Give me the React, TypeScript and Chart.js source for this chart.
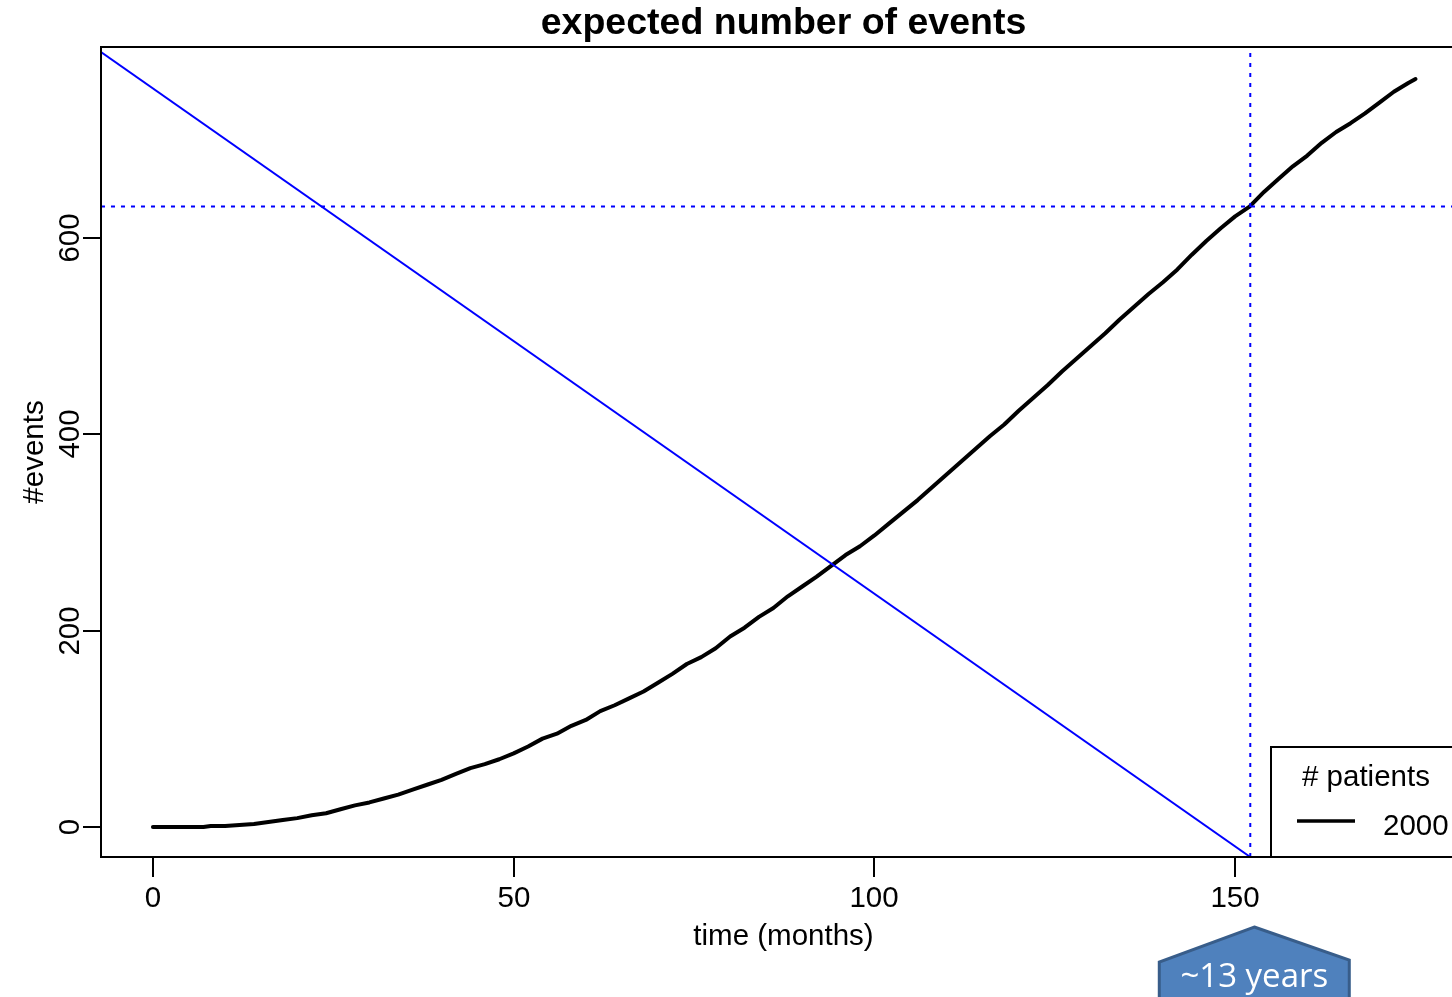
import React, { useEffect, useRef } from "react";
import { Chart, registerables } from "chart.js";

Chart.register(...registerables);

// ---- data ----
const months = [
  0, 2, 4, 6, 7, 8, 10, 12, 14, 16, 18, 20, 22, 24, 26, 28, 30, 32, 34, 36, 38, 40,
  42, 44, 46, 48, 50, 52, 54, 56, 58, 60, 62, 64, 66, 68, 70, 72, 74, 76, 78, 80,
  82, 84, 86, 88, 90, 92, 94, 96, 98, 100, 102, 104, 106, 108, 110, 112, 114, 116,
  118, 120, 122, 124, 126, 128, 130, 132, 134, 136, 138, 140, 142, 144, 146, 148,
  150, 152, 154, 156, 158, 160, 162, 164, 166, 168, 170, 172, 174, 175,
];
const events = [
  0, 0, 0, 0, 0, 1, 1, 2, 3, 5, 7, 9, 12, 14, 18, 22, 25, 29, 33, 38, 43, 48,
  54, 60, 64, 69, 75, 82, 90, 95, 103, 109, 118, 124, 131, 138, 147, 156, 166, 173, 182, 194,
  203, 214, 223, 235, 245, 255, 266, 277, 286, 297, 309, 321, 333, 346, 359, 372, 385, 398,
  410, 424, 437, 450, 464, 477, 490, 503, 517, 530, 543, 555, 568, 583, 597, 610,
  622, 632, 647, 660, 673, 684, 697, 708, 717, 727, 738, 749, 758, 762,
];
const xTicks = [0, 50, 100, 150];
const yTicks = [0, 200, 400, 600];
const xRange = [-7.2, 182];
const yRange = [-30.6, 794.6];
const diagX = [-7.2, 152.1];
const diagY = [789.5, -30.6];
const cutoffMonths = 152.1;
const cutoffEvents = 632;

const titleText = "expected number of events";
const xTitle = "time (months)";
const yTitle = "#events";
const legendTitle = "# patients";
const seriesLabel = "2000";
const calloutText = "~13 years";

const FONT = "'Liberation Sans', Arial, Helvetica, sans-serif";

const decorPlugin = {
  id: "decor",
  afterDraw(chart: any) {
    const ctx = chart.ctx as CanvasRenderingContext2D;
    const a = chart.chartArea;
    const xs = chart.scales.x;
    const ys = chart.scales.y;
    ctx.save();

    // legend box (bottom right)
    const lx = 1271;
    const ly = 747;
    ctx.fillStyle = "#ffffff";
    ctx.fillRect(lx, ly, a.right - lx, a.bottom - ly);
    ctx.strokeStyle = "#000";
    ctx.lineWidth = 2;
    ctx.strokeRect(lx, ly, a.right - lx, a.bottom - ly);
    ctx.fillStyle = "#000";
    ctx.font = `29.5px ${FONT}`;
    ctx.textAlign = "left";
    ctx.textBaseline = "alphabetic";
    ctx.fillText(legendTitle, 1302, 786);
    ctx.fillText(seriesLabel, 1383, 835);
    ctx.lineWidth = 3.5;
    ctx.beginPath();
    ctx.moveTo(1297, 821);
    ctx.lineTo(1355, 821);
    ctx.stroke();

    // frame
    ctx.lineWidth = 2;
    ctx.strokeStyle = "#000";
    ctx.strokeRect(a.left, a.top, a.right - a.left, a.bottom - a.top);

    // x ticks
    ctx.font = `29.5px ${FONT}`;
    ctx.fillStyle = "#000";
    ctx.lineWidth = 2;
    ctx.textAlign = "center";
    for (const v of xTicks) {
      const px = Math.round(xs.getPixelForValue(v));
      ctx.beginPath();
      ctx.moveTo(px, a.bottom);
      ctx.lineTo(px, a.bottom + 20);
      ctx.stroke();
      ctx.fillText(String(v), px, 907);
    }
    // y ticks
    for (const v of yTicks) {
      const py = Math.round(ys.getPixelForValue(v));
      ctx.beginPath();
      ctx.moveTo(a.left - 18, py);
      ctx.lineTo(a.left, py);
      ctx.stroke();
      ctx.save();
      ctx.translate(79, py);
      ctx.rotate(-Math.PI / 2);
      ctx.fillText(String(v), 0, 0);
      ctx.restore();
    }

    // axis titles
    ctx.fillText(xTitle, (a.left + a.right) / 2, 945);
    ctx.save();
    ctx.translate(43, (a.top + a.bottom) / 2);
    ctx.rotate(-Math.PI / 2);
    ctx.fillText(yTitle, 0, 0);
    ctx.restore();

    // main title
    ctx.font = `bold 37.5px ${FONT}`;
    ctx.fillText(titleText, (a.left + a.right) / 2, 34);

    // callout shape
    const cx = xs.getPixelForValue(cutoffMonths) + 4;
    ctx.beginPath();
    ctx.moveTo(cx, 927);
    ctx.lineTo(cx + 95, 960);
    ctx.lineTo(cx + 95, 1010);
    ctx.lineTo(cx - 95, 1010);
    ctx.lineTo(cx - 95, 962);
    ctx.closePath();
    ctx.fillStyle = "#4F81BD";
    ctx.fill();
    ctx.lineWidth = 3;
    ctx.strokeStyle = "#385D8A";
    ctx.stroke();
    ctx.fillStyle = "#ffffff";
    ctx.font = `33px 'Open Sans', 'Liberation Sans', sans-serif`;
    ctx.textAlign = "center";
    ctx.fillText(calloutText, cx, 987);

    ctx.restore();
  },
};

export default function App() {
  const ref = useRef<HTMLCanvasElement | null>(null);

  useEffect(() => {
    if (!ref.current) return;
    const curve = months.map((m, i) => ({ x: m, y: events[i] }));
    const diag = diagX.map((x, i) => ({ x, y: diagY[i] }));
    const hLine = xRange.map((x) => ({ x, y: cutoffEvents }));
    const vLine = yRange.map((y) => ({ x: cutoffMonths, y }));
    const chart = new Chart(ref.current, {
      type: "line",
      data: {
        datasets: [
          {
            label: "diagonal",
            data: diag,
            borderColor: "#0000ff",
            borderWidth: 2,
            pointRadius: 0,
            tension: 0,
          },
          {
            label: "h",
            data: hLine,
            borderColor: "#0000ff",
            borderWidth: 2,
            borderDash: [4, 6],
            pointRadius: 0,
          },
          {
            label: "v",
            data: vLine,
            borderColor: "#0000ff",
            borderWidth: 2,
            borderDash: [4, 6],
            pointRadius: 0,
          },
          {
            label: seriesLabel,
            data: curve,
            borderColor: "#000000",
            borderWidth: 4,
            pointRadius: 0,
            tension: 0,
            borderJoinStyle: "round",
            borderCapStyle: "round",
          },
        ],
      },
      options: {
        responsive: false,
        animation: false,
        devicePixelRatio: 1,
        layout: { padding: { left: 101, top: 47, right: 14, bottom: 140 } },
        plugins: {
          legend: { display: false },
          title: { display: false },
          tooltip: { enabled: false },
        },
        scales: {
          x: { type: "linear", min: xRange[0], max: xRange[1], display: false },
          y: { type: "linear", min: yRange[0], max: yRange[1], display: false },
        },
      },
      plugins: [decorPlugin],
    });
    return () => chart.destroy();
  }, []);

  return (
    <div
      style={{
        position: "absolute",
        left: 0,
        top: 0,
        width: 1452,
        height: 997,
        overflow: "hidden",
        background: "#fff",
      }}
    >
      <canvas ref={ref} width={1480} height={997} style={{ display: "block" }} />
    </div>
  );
}
